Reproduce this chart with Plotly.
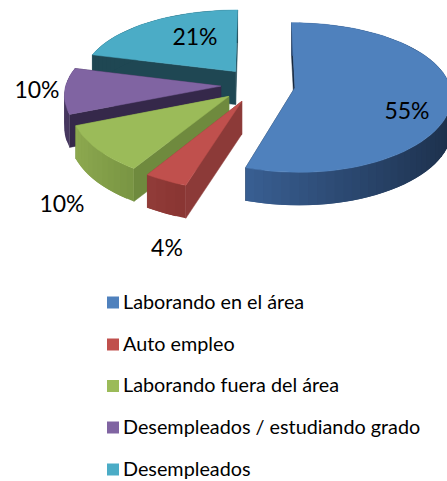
import math
import plotly.graph_objects as go

# Data
LABELS = ["Laborando en el área", "Auto empleo", "Laborando fuera del área",
          "Desempleados / estudiando grado", "Desempleados"]
VALUES = [55, 4, 10, 10, 21]
PERCENT_TEXT = ["55%", "4%", "10%", "10%", "21%"]

# Colours per slice
TOP_COLORS = ["#4f81bd", "#c0504d", "#9bbb59", "#8064a2", "#4bacc6"]
EDGE_COLORS = ["#17283f", "#8c3a38", "#6f8a3e", "#35284a", "#1f4753"]
WALL_RIGHT = [(28, 47, 74), (138, 54, 51), (122, 150, 68), (70, 55, 95), (31, 71, 83)]
WALL_LEFT = [(58, 96, 148), (147, 61, 58), (142, 170, 80), (70, 55, 95), (31, 71, 83)]

FONT = "Lato, Carlito, sans-serif"
W, H = 447, 481

# 3D pie geometry, pixels
CX, CY = 258, 85
RADIUS = 155
TILT = 0.47
PERSPECTIVE_X = 0.10
PERSPECTIVE_Y = 0.13
PULL = 0.24
DEPTH = 33


def project(x, z):
    wx = 1 / (1 - PERSPECTIVE_X * z)
    wy = 1 / (1 - PERSPECTIVE_Y * z)
    return CX + RADIUS * x * wx, CY + RADIUS * TILT * z * wy


def polar(theta, pull_dir):
    return pull_dir[0] + math.sin(theta), pull_dir[1] - math.cos(theta)


def mix(c1, c2, s):
    return "rgb(%d,%d,%d)" % tuple(a + (b - a) * s for a, b in zip(c1, c2))


def add_poly(fig, pts, color, line_width=0.5):
    fig.add_trace(go.Scatter(
        x=[p[0] for p in pts] + [pts[0][0]], y=[p[1] for p in pts] + [pts[0][1]],
        mode="lines", fill="toself", fillcolor=color,
        line=dict(color=color, width=line_width), hoverinfo="skip", showlegend=False))


def add_slice(fig, i, start, end):
    mid = (start + end) / 2
    offset = (PULL * math.sin(mid), -PULL * math.cos(mid))
    steps = max(4, int((end - start) / math.radians(3)))
    thetas = [start + (end - start) * k / steps for k in range(steps + 1)]
    rim = [project(*polar(t, offset)) for t in thetas]
    apex = project(*offset)
    down = lambda p: (p[0], p[1] + DEPTH)

    # radial faces, then the outer wall in strips for the shading, then the top
    add_poly(fig, [apex, rim[-1], down(rim[-1]), down(apex)], EDGE_COLORS[i])
    add_poly(fig, [apex, rim[0], down(rim[0]), down(apex)], EDGE_COLORS[i])
    shade = [(1 - math.sin(t)) / 2 for t in thetas]
    lo, hi = min(shade), max(shade)
    for k in range(steps):
        s = (shade[k] - lo) / (hi - lo)
        # each strip runs on under the next one so no seam shows
        k2 = min(k + 2, steps)
        add_poly(fig, [rim[k], rim[k2], down(rim[k2]), down(rim[k])],
                 mix(WALL_RIGHT[i], WALL_LEFT[i], s), line_width=0)
    add_poly(fig, [apex] + rim, TOP_COLORS[i])


fig = go.Figure()

total = sum(VALUES)
angles = [0]
for v in VALUES:
    angles.append(angles[-1] + 2 * math.pi * v / total)

# back to front
for i in [4, 3, 2, 1, 0]:
    add_slice(fig, i, angles[i], angles[i + 1])

# percent labels
label_x = [407, 167, 62, 37, 195]
label_y = [113, 250, 206, 92, 39]
fig.add_trace(go.Scatter(
    x=label_x, y=label_y, text=PERCENT_TEXT, mode="text", textposition="middle center",
    textfont=dict(family=FONT, size=23, color="#000000"),
    hoverinfo="skip", showlegend=False))

# legend drawn as square markers with text beside them
legend_y = [302.5, 344.5, 386, 427.5, 469.5]
legend_text_y = [304, 346, 387.5, 429, 471]
fig.add_trace(go.Scatter(
    x=[113] * len(LABELS), y=legend_y, mode="markers",
    marker=dict(symbol="square", size=12, color=TOP_COLORS, line=dict(width=0)),
    hoverinfo="skip", showlegend=False))
fig.add_trace(go.Scatter(
    x=[123] * len(LABELS), y=legend_text_y, text=LABELS, mode="text",
    textposition="middle right",
    textfont=dict(family=FONT, size=19.8, color="#000000"),
    hoverinfo="skip", showlegend=False))

fig.update_layout(
    width=W, height=H,
    margin=dict(l=0, r=0, t=0, b=0),
    paper_bgcolor="#ffffff", plot_bgcolor="#ffffff",
    showlegend=False,
    xaxis=dict(range=[0, W], visible=False, fixedrange=True),
    yaxis=dict(range=[H, 0], visible=False, fixedrange=True),
)

fig.write_html("out.html", config=dict(displayModeBar=False),
               post_script="document.body.style.margin='0';document.body.style.overflow='hidden';")
